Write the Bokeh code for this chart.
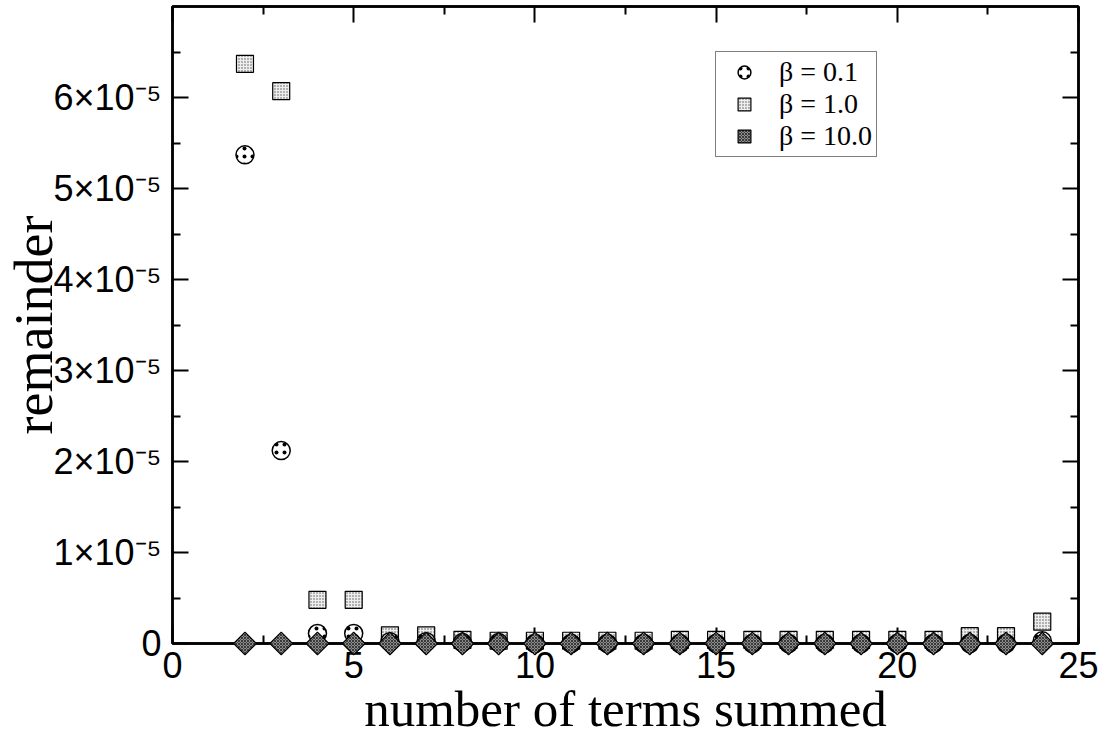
import math

from bokeh.plotting import figure
from bokeh.models import (Range1d, FixedTicker, LinearAxis, Legend, LegendItem,
                          CustomLabelingPolicy)
from bokeh.embed import file_html
from bokeh.resources import INLINE

# Number of terms kept in the series
n_terms = list(range(2, 25))

# Remainder after summing, in units of 1e-5
rem_beta_0_1 = [5.37, 2.12, 0.11, 0.11, 0.02, 0.02, 0.01, 0.01, 0.0, 0.0, 0.0, 0.0,
                0.0, 0.0, 0.0, 0.0, 0.0, 0.0, 0.0, 0.0, 0.0, 0.0, 0.03]
rem_beta_1_0 = [6.37, 6.07, 0.48, 0.48, 0.09, 0.09, 0.04, 0.03, 0.03, 0.03, 0.03, 0.03,
                0.04, 0.04, 0.04, 0.04, 0.04, 0.04, 0.04, 0.04, 0.08, 0.08, 0.24]
rem_beta_10_0 = [0.0] * 23

series_labels = ["β = 0.1", "β = 1.0", "β = 10.0"]

x_major_ticks = [0, 5, 10, 15, 20, 25]
x_minor_ticks = [2.5, 7.5, 12.5, 17.5, 22.5]
y_major_ticks = [0, 1, 2, 3, 4, 5, 6]
y_minor_ticks = [0.5, 1.5, 2.5, 3.5, 4.5, 5.5, 6.5]
y_tick_labels = ["0", "1×10⁻⁵", "2×10⁻⁵", "3×10⁻⁵", "4×10⁻⁵", "5×10⁻⁵", "6×10⁻⁵"]

SANS = "Liberation Sans"
SERIF = "Liberation Serif"

p = figure(frame_width=906, frame_height=637,
           min_border_left=172, min_border_right=36,
           min_border_top=6, min_border_bottom=93,
           x_range=Range1d(0, 25), y_range=Range1d(0, 7),
           output_backend="svg", toolbar_location=None)
p.xgrid.visible = False
p.ygrid.visible = False
p.background_fill_color = "white"
p.border_fill_color = "white"
p.outline_line_color = "black"
p.outline_line_width = 2.5

# mirrored tick-only axes on the right and top (no labels drawn)
no_labels = CustomLabelingPolicy(code="""
if (typeof indices.clear === "function") { indices.clear(); return indices }
for (let i = 0; i < indices.size; i++) indices.set(i, false)
return indices
""")
p.add_layout(LinearAxis(major_label_policy=no_labels), "right")
p.add_layout(LinearAxis(major_label_policy=no_labels), "above")

for ax in p.xaxis:
    ax.ticker = FixedTicker(ticks=x_major_ticks, minor_ticks=x_minor_ticks)
for ax in p.yaxis:
    ax.ticker = FixedTicker(ticks=y_major_ticks, minor_ticks=y_minor_ticks)

for ax in p.axis:
    ax.axis_line_color = "black"
    ax.axis_line_width = 2.5
    ax.major_tick_in = 16
    ax.major_tick_out = 0
    ax.minor_tick_in = 8
    ax.minor_tick_out = 0
    ax.major_tick_line_width = 2
    ax.minor_tick_line_width = 2
    ax.major_tick_line_color = "black"
    ax.minor_tick_line_color = "black"
    ax.major_label_text_font = SANS
    ax.major_label_text_font_size = "36px"
    ax.major_label_text_color = "black"

for ax in (p.right[0], p.above[0]):
    ax.major_label_standoff = 0
    ax.major_label_text_font_size = "0px"

xax = p.below[0]
xax.major_label_standoff = 8
xax.axis_label = "number of terms summed"
xax.axis_label_text_font = SERIF
xax.axis_label_text_font_size = "51px"
xax.axis_label_text_font_style = "normal"
xax.axis_label_text_color = "black"
xax.axis_label_standoff = 0

yax = p.left[0]
yax.major_label_standoff = 11
yax.major_label_overrides = dict(zip(y_major_ticks, y_tick_labels))
yax.axis_label = "remainder"
yax.axis_label_text_font = SERIF
yax.axis_label_text_font_size = "54px"
yax.axis_label_text_font_style = "normal"
yax.axis_label_text_color = "black"
yax.axis_label_standoff = -14

sq = p.scatter(n_terms, rem_beta_1_0, marker="square", size=17,
               fill_color="#eeeeee", line_color="black", line_width=1.2,
               hatch_pattern="dot", hatch_scale=3, hatch_color="#555555", hatch_weight=1,
               level="annotation")
ci = p.scatter(n_terms, rem_beta_0_1, marker="circle", size=18,
               fill_color="white", line_color="black", line_width=1.5,
               hatch_pattern="dot", hatch_scale=8, hatch_color="black", hatch_weight=1.5,
               level="annotation")
di = p.scatter(n_terms, rem_beta_10_0, marker="square", size=16, angle=math.pi / 4,
               fill_color="#8c8c8c", line_color="black", line_width=1.2,
               hatch_pattern="diagonal_cross", hatch_scale=3, hatch_color="#3a3a3a",
               hatch_weight=1, level="annotation")

legend = Legend(items=[LegendItem(label=series_labels[0], renderers=[ci]),
                       LegendItem(label=series_labels[1], renderers=[sq]),
                       LegendItem(label=series_labels[2], renderers=[di])],
                location=(543, 486), orientation="vertical",
                border_line_color="black", border_line_width=1.5,
                background_fill_color="white", background_fill_alpha=1,
                padding=4, margin=0, spacing=0,
                glyph_width=48, glyph_height=32, label_height=32,
                label_standoff=11, label_text_font=SERIF,
                label_text_font_size="28px", label_text_color="black")
p.add_layout(legend, "center")

open("out.html", "w").write(file_html(p, INLINE))
